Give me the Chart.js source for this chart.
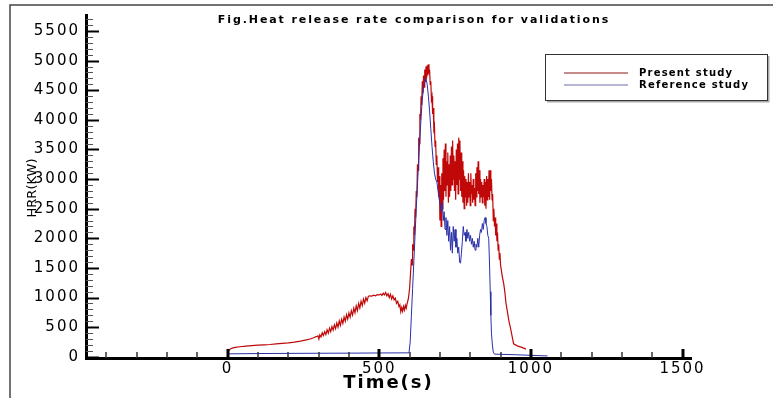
<!DOCTYPE html>
<html><head><meta charset="utf-8">
<script src="https://cdn.jsdelivr.net/npm/chart.js@4/dist/chart.umd.min.js"></script>
<style>html,body{margin:0;padding:0;background:#fff;overflow:hidden}canvas{display:block}</style>
</head><body>
<canvas id="c" width="773" height="398"></canvas>
<script>
const chartTitle = 'Fig.Heat release rate comparison for validations';
const xAxisTitle = 'Time(s)';
const yAxisTitle = 'HRR(KW)';
const seriesLabels = ['Present study', 'Reference study'];
const seriesColors = ['#c00808', '#2a30a8'];
const xTickValues = [0, 500, 1000, 1500];
const yTickValues = [0, 500, 1000, 1500, 2000, 2500, 3000, 3500, 4000, 4500, 5000, 5500];

const presentTime = [0,4,8,15,25,40,60,80,100,120,140,160,180,200,220,240,260,275,285,292,298,301,304,308,312,316,320,324,328,332,336,340,344,348,352,356,360,364,368,372,376,380,384,388,392,396,400,404,408,412,416,420,424,428,432,436,440,444,448,452,456,460,464,468,475,482,488,494,500,505,509,513,517,521,525,529,533,537,541,545,549,553,557,561,565,568,571,574,577,580,583,586,589,592,596,600,603,606,608,610,612,614,616,618,620,622,624,626,628,630,632,634,636,638,640,642,644,646,648,650,652,654,656,658,660,662,664,666,668,670,672,674,676,678,680,682,684,686,688,690,692,694,696,698,700,702,704,706,708,710,712,714,716,718,720,722,724,726,728,730,732,734,736,738,740,742,744,746,748,750,752,754,756,758,760,762,764,766,768,770,772,774,776,778,780,782,784,786,788,790,792,794,796,798,800,802,804,806,808,810,812,814,816,818,820,822,824,826,828,830,832,834,836,838,840,842,844,846,848,850,852,854,856,858,860,862,864,866,868,870,872,874,876,878,880,882,884,886,888,890,892,894,896,898,900,903,906,910,914,918,922,927,933,938,943,955,970,984];
const presentHRR = [60,105,130,148,160,170,182,190,196,202,208,218,228,236,248,265,285,305,325,340,355,300,370,335,405,360,425,375,455,400,485,425,510,450,540,475,570,500,605,530,635,565,670,600,710,635,740,670,780,705,820,745,860,780,900,825,940,865,975,905,1000,945,1020,1030,1025,1040,1030,1050,1045,1060,1035,1075,1045,1085,1030,1065,1000,1055,975,1030,960,990,900,935,850,880,760,830,770,850,790,870,820,900,980,1150,1400,1650,1550,1900,1800,2200,2050,2500,2350,2800,2700,3250,3150,3700,3600,4100,4000,4400,4250,4650,4450,4750,4550,4850,4650,4900,4700,4920,4750,4940,4780,4850,4600,4650,4350,4400,4100,4200,3850,3900,3550,3650,3250,3400,2950,3200,2700,3050,2300,2900,2200,3100,2500,3350,2650,3500,2800,3600,2700,3300,2900,3450,2600,3250,2700,3400,2800,3550,2900,3650,3000,3400,2800,3300,2650,3500,2900,3600,2750,3700,3000,3650,2800,3450,2700,3300,2600,3150,2500,3050,2700,3000,2550,2950,2600,3100,2700,2950,2550,3100,2750,2900,2600,3000,2650,2850,2550,3100,2700,3200,2800,3300,2750,3150,2600,3000,2700,2950,2600,2900,2700,3000,2550,2950,2500,3050,2650,3000,2700,3150,2650,3150,2800,3000,2650,2750,2300,2500,2200,2350,2050,2250,1950,2100,1800,1900,1650,1750,1550,1450,1350,1250,1100,900,780,620,480,350,220,185,160,130];

const referenceTime = [0,100,200,300,400,500,598,602,606,610,614,618,622,626,630,634,638,642,646,650,654,658,662,666,670,674,678,682,686,690,694,698,702,705,708,711,714,717,720,723,726,729,732,735,738,741,744,747,750,753,756,759,762,765,768,771,774,777,780,783,786,789,792,795,798,801,804,807,810,813,816,819,822,825,828,831,834,837,840,843,846,849,852,855,858,861,864,866,868,870,873,876,880,950,1000,1055];
const referenceHRR = [50,55,58,60,62,65,67,250,700,1150,1600,2050,2500,2900,3300,3700,4050,4350,4550,4650,4700,4600,4400,4150,3850,3550,3300,3100,3000,2950,2800,2650,2550,2450,2600,2300,2450,2150,2350,2050,2300,1950,2200,1800,2100,1750,2200,1950,2150,1850,2000,1750,1850,1600,1580,1750,1950,2200,2050,2100,1950,2150,2000,2100,1950,2050,1900,2000,1850,1950,1800,1900,1850,2000,1850,2050,2150,2100,2250,2150,2300,2350,2250,2200,2050,2000,1500,1100,700,400,200,80,45,35,25,15];

function pairs(xs, ys) { return xs.map((x, i) => ({ x: x, y: ys[i] })); }

const decor = {
  id: 'decor',
  beforeDraw(chart) { chart.ctx.letterSpacing = '2px'; },
  afterDraw(chart) {
    const ctx = chart.ctx;
    const { left, right, top, bottom } = chart.chartArea;
    const xs = chart.scales.x, ys = chart.scales.y;
    ctx.save();
    ctx.letterSpacing = '0px';
    for (let v = 0; v <= 5700; v += 100) {
      const p = Math.round(ys.getPixelForValue(v)) + 0.5;
      const major = v % 500 === 0;
      ctx.lineWidth = major ? 2 : 1;
      ctx.strokeStyle = major ? '#000' : '#555';
      ctx.beginPath(); ctx.moveTo(left, p); ctx.lineTo(left + (major ? 13 : 7), p); ctx.stroke();
    }
    for (let v = -400; v <= 1500; v += 100) {
      const p = Math.round(xs.getPixelForValue(v));
      const major = v % 500 === 0;
      ctx.lineWidth = major ? 3 : 1.5;
      ctx.strokeStyle = major ? '#000' : '#333';
      ctx.beginPath(); ctx.moveTo(p, bottom); ctx.lineTo(p, bottom - (major ? 9 : 6)); ctx.stroke();
    }
    ctx.strokeStyle = '#444'; ctx.lineWidth = 1.5;
    ctx.beginPath(); ctx.moveTo(10, 398); ctx.lineTo(10, 5); ctx.lineTo(773, 5); ctx.stroke();
    ctx.fillStyle = '#000';
    ctx.font = 'bold 11px "DejaVu Sans"';
    ctx.letterSpacing = '1.9px';
    ctx.textAlign = 'center'; ctx.textBaseline = 'middle';
    ctx.fillText(chartTitle, 414, 20);
    ctx.save();
    ctx.letterSpacing = '0px';
    ctx.font = '13px "DejaVu Sans"';
    ctx.translate(33, 188); ctx.rotate(-Math.PI / 2);
    ctx.fillText(yAxisTitle, 0, 0);
    ctx.restore();
    const lx = 545, ly = 54, lw = 222, lh = 46;
    ctx.strokeStyle = '#aaa'; ctx.lineWidth = 2;
    ctx.beginPath(); ctx.moveTo(lx + lw + 1.5, ly + 2); ctx.lineTo(lx + lw + 1.5, ly + lh + 1.5); ctx.lineTo(lx + 2, ly + lh + 1.5); ctx.stroke();
    ctx.strokeStyle = '#333'; ctx.lineWidth = 1;
    ctx.strokeRect(lx + 0.5, ly + 0.5, lw, lh);
    const legendLineColors = ['rgba(180,100,100,0.75)', 'rgba(70,70,150,0.8)'];
    const rowsY = [73, 85];
    ctx.font = 'bold 10px "DejaVu Sans"';
    ctx.letterSpacing = '1.2px';
    ctx.textAlign = 'left';
    seriesLabels.forEach((lab, i) => {
      ctx.strokeStyle = legendLineColors[i]; ctx.lineWidth = i === 0 ? 2 : 1.2;
      ctx.beginPath(); ctx.moveTo(564, rowsY[i]); ctx.lineTo(628, rowsY[i]); ctx.stroke();
      ctx.fillStyle = '#000';
      ctx.fillText(lab, 639, rowsY[i] + 0.5);
    });
    ctx.restore();
    ctx.letterSpacing = '0px';
  }
};

new Chart(document.getElementById('c'), {
  type: 'line',
  data: {
    datasets: [
      { label: seriesLabels[0], data: pairs(presentTime, presentHRR), borderColor: seriesColors[0], borderWidth: 1.2, pointRadius: 0, tension: 0, fill: false, order: 1 },
      { label: seriesLabels[1], data: pairs(referenceTime, referenceHRR), borderColor: seriesColors[1], borderWidth: 1, pointRadius: 0, tension: 0, fill: false, order: 0 }
    ]
  },
  options: {
    responsive: false,
    animation: false,
    events: [],
    layout: { padding: { top: 13, right: 82, bottom: 0, left: 0 } },
    plugins: { legend: { display: false }, tooltip: { enabled: false }, title: { display: false } },
    scales: {
      x: {
        type: 'linear', min: -467, max: 1528,
        grid: { display: false, drawTicks: false },
        border: { display: true, color: '#000', width: 3 },
        afterBuildTicks(scale) { scale.ticks = xTickValues.map(v => ({ value: v })); },
        afterFit(scale) { scale.height = 40; },
        ticks: { color: '#000', padding: 2, font: { family: 'DejaVu Sans', size: 15 }, callback: v => String(v), maxRotation: 0, autoSkip: false },
        title: { display: true, text: xAxisTitle, color: '#000', font: { family: 'DejaVu Sans', size: 18, weight: 'bold' }, padding: { top: 0, bottom: 4 } }
      },
      y: {
        type: 'linear', min: -20, max: 5770,
        grid: { display: false, drawTicks: false },
        border: { display: true, color: '#000', width: 3 },
        afterBuildTicks(scale) { scale.ticks = yTickValues.map(v => ({ value: v })); },
        afterFit(scale) { scale.width = 86; },
        ticks: { color: '#000', padding: 6, font: { family: 'DejaVu Sans', size: 15 }, callback: v => String(v), autoSkip: false }
      }
    }
  },
  plugins: [decor]
});
</script>
</body></html>
